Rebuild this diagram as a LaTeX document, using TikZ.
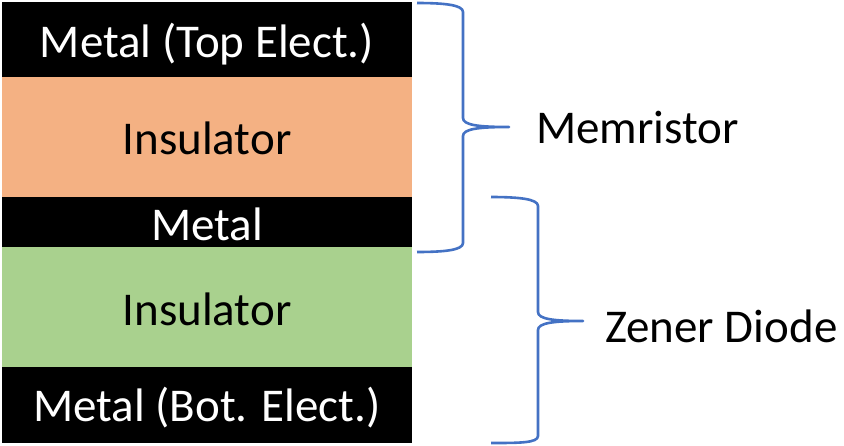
\documentclass[tikz,border=0pt]{standalone}
\usepackage{fontspec}
\setmainfont{Carlito}
\definecolor{orangeL}{HTML}{F4B183}
\definecolor{greenL}{HTML}{A9D18E}
\definecolor{braceC}{HTML}{4472C4}
\begin{document}
\begin{tikzpicture}[x=1pt,y=-1pt,
  lbl/.style={anchor=base, inner sep=0pt, font=\fontsize{47}{56}\selectfont},
  wlbl/.style={lbl, text=white},
  brc/.style={draw=braceC, line width=2.6pt, line join=round}]
\useasboundingbox (0,0) rectangle (844,445);
\fill[black] (2,2) rectangle (412,77);
\fill[orangeL] (2,77) rectangle (412,197);
\fill[black] (2,197) rectangle (412,247);
\fill[greenL] (2,247) rectangle (412,367);
\fill[black] (2,367) rectangle (412,443);
\node[wlbl] (top) at (207,57) {Metal (Top Elect.)};
\node[lbl] (ins1) at (207,154) {Insulator};
\node[wlbl] (mid) at (207,240) {Metal};
\node[lbl] (ins2) at (207,325) {Insulator};
\node[wlbl] (bot) at (207,421) {Metal (Bot. Elect.)};
\node[lbl, anchor=base west] (mem) at (536,143) {Memristor};
\node[lbl, anchor=base west] (zen) at (605,342) {Zener Diode};
\coordinate (t1) at (509,127);
\coordinate (t2) at (583,321);
\draw[brc] (417,3) .. controls (445,3) and (463,5) .. (463,12) -- (463,118)
  .. controls (463,125) and (478,127) .. (t1)
  .. controls (478,127) and (463,129) .. (463,136) -- (463,243)
  .. controls (463,250) and (445,252) .. (417,252);
\draw[brc] (491,197) .. controls (519,197) and (538,199) .. (538,206) -- (538,312)
  .. controls (538,319) and (553,321) .. (t2)
  .. controls (553,321) and (538,323) .. (538,330) -- (538,436)
  .. controls (538,443) and (519,443) .. (491,443);
\end{tikzpicture}
\end{document}
